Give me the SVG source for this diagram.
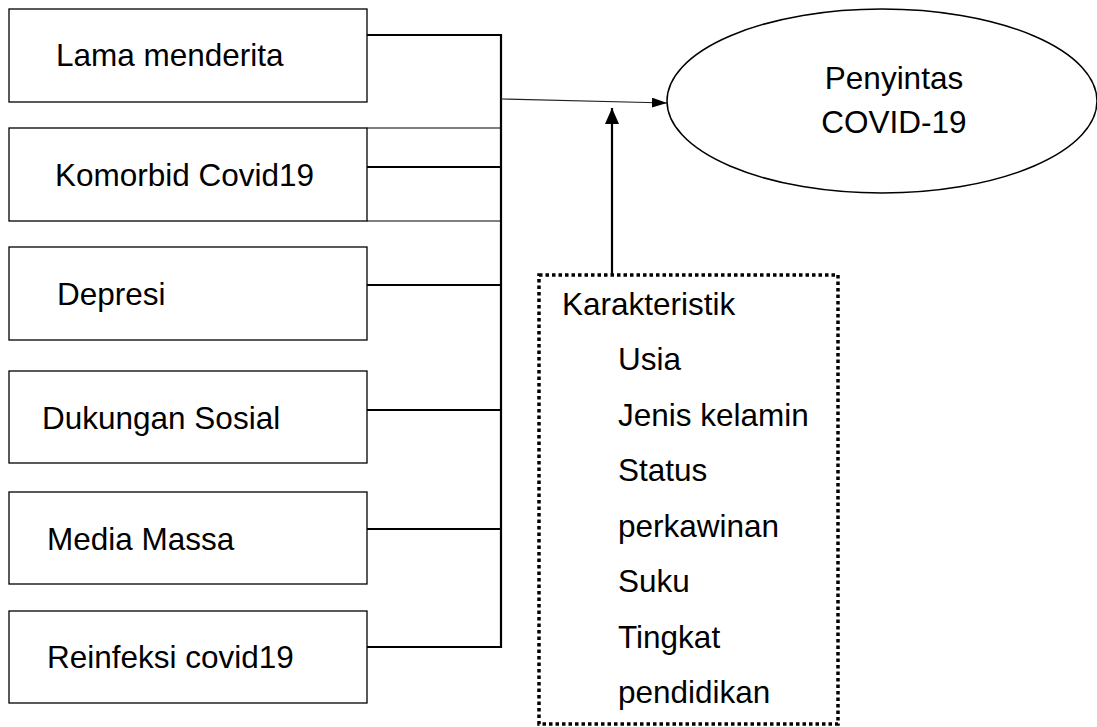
<svg xmlns="http://www.w3.org/2000/svg" width="1097" height="727" viewBox="0 0 1097 727">
<defs>
<style>
.box{fill:#fff;stroke:#000;stroke-width:1.3}
.t{font-family:"Liberation Sans",Arial,sans-serif;font-size:31.5px;fill:#000}
.thick{stroke:#000;stroke-width:2.2;fill:none}
.thin{stroke:#000;stroke-width:1.2;fill:none}
</style>
<marker id="ah" viewBox="0 0 15 10" refX="15" refY="5" markerWidth="15" markerHeight="10" markerUnits="userSpaceOnUse" orient="auto">
<path d="M0,0 L15,5 L0,10 Z" fill="#000"/>
</marker>
<marker id="ah2" viewBox="0 0 16 14" refX="16" refY="7" markerWidth="16" markerHeight="14" markerUnits="userSpaceOnUse" orient="auto">
<path d="M0,0 L16,7 L0,14 Z" fill="#000"/>
</marker>
</defs>
<rect width="1097" height="727" fill="#fff"/>
<g id="connectors">
<polyline class="thick" points="367,35 501,35 501,647 367,647"/>
<line class="thin" x1="367" y1="128" x2="501" y2="128"/>
<line class="thin" x1="367" y1="221" x2="501" y2="221"/>
<line class="thick" x1="367" y1="167" x2="501" y2="167"/>
<line class="thick" x1="367" y1="285" x2="501" y2="285"/>
<line class="thick" x1="367" y1="410" x2="501" y2="410"/>
<line class="thick" x1="367" y1="529" x2="501" y2="529"/>
<line x1="501" y1="99" x2="667" y2="103" stroke="#222" stroke-width="1.2" marker-end="url(#ah)"/>
<line x1="612" y1="275" x2="612" y2="108" stroke="#000" stroke-width="2.2" marker-end="url(#ah2)"/>
</g>
<g id="n1"><rect class="box" x="9" y="9" width="358" height="93"/><text class="t" x="56" y="66">Lama menderita</text></g>
<g id="n2"><rect class="box" x="9" y="128" width="358" height="93"/><text class="t" x="55" y="186">Komorbid Covid19</text></g>
<g id="n3"><rect class="box" x="9" y="247" width="358" height="93"/><text class="t" x="57" y="305">Depresi</text></g>
<g id="n4"><rect class="box" x="9" y="371" width="358" height="92"/><text class="t" x="42" y="429">Dukungan Sosial</text></g>
<g id="n5"><rect class="box" x="9" y="492" width="358" height="92"/><text class="t" x="47" y="550">Media Massa</text></g>
<g id="n6"><rect class="box" x="9" y="611" width="358" height="92"/><text class="t" x="47" y="668">Reinfeksi covid19</text></g>
<g id="outcome"><ellipse cx="882" cy="101" rx="215" ry="92" fill="#fff" stroke="#000" stroke-width="1.5"/>
<text class="t" x="894" y="89" text-anchor="middle">Penyintas</text>
<text class="t" x="894" y="133" text-anchor="middle">COVID-19</text></g>
<g id="karakteristik">
<rect x="539" y="275" width="299" height="449" fill="none" stroke="#000" stroke-width="3.5" stroke-dasharray="3.5 3"/>
<text class="t" x="562" y="315">Karakteristik</text>
<text class="t" x="618" y="370">Usia</text>
<text class="t" x="618" y="426">Jenis kelamin</text>
<text class="t" x="618" y="481">Status</text>
<text class="t" x="618" y="537">perkawinan</text>
<text class="t" x="618" y="592">Suku</text>
<text class="t" x="618" y="648">Tingkat</text>
<text class="t" x="618" y="703">pendidikan</text>
</g>
</svg>
